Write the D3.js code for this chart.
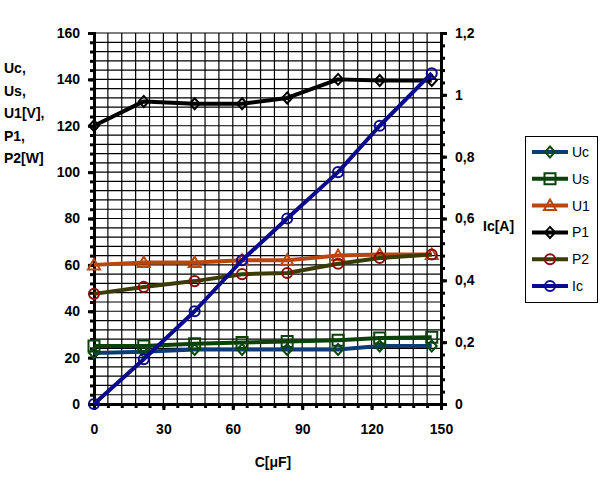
<!DOCTYPE html>
<html><head><meta charset="utf-8">
<script src="https://cdn.jsdelivr.net/npm/d3@7"></script>
<style>body{margin:0;background:#fff}svg{display:block}text{font-family:"Liberation Sans",Arial,sans-serif}</style>
</head><body><div id="c"></div>
<script>
const capacitance = [0, 21.5, 43.5, 64, 83.5, 105.5, 123.5, 146];
const Uc = [22, 22.5, 23.5, 23.5, 23.5, 23.5, 25, 25];
const Us = [25, 25, 26, 26.5, 27, 27.5, 28.5, 28.8];
const U1 = [60, 61, 61, 62, 62, 64, 64.5, 64.5];
const P1 = [120, 130.5, 129.5, 129.5, 132, 140, 139.5, 139.5];
const P2 = [47.5, 50.5, 53, 56, 56.5, 60.5, 63, 64.5];
const Ic = [0, 0.145, 0.30, 0.465, 0.60, 0.75, 0.90, 1.07];
const xTicks = [0, 30, 60, 90, 120, 150];
const yLeftTicks = [0, 20, 40, 60, 80, 100, 120, 140, 160];
const yRightTicks = [0, 0.2, 0.4, 0.6, 0.8, 1, 1.2];
const leftTitle = ["Uc,", "Us,", "U1[V],", "P1,", "P2[W]"];

const series = [
  {name:"Uc", values:Uc, axis:"L", line:"#0B3D74", marker:"diamond", mcol:"#0A4A0A"},
  {name:"Us", values:Us, axis:"L", line:"#0A420A", marker:"square", mcol:"#0A420A"},
  {name:"U1", values:U1, axis:"L", line:"#B8460E", marker:"triangle", mcol:"#B8460E"},
  {name:"P1", values:P1, axis:"L", line:"#000000", marker:"diamond", mcol:"#000000"},
  {name:"P2", values:P2, axis:"L", line:"#3B3B06", marker:"circle", mcol:"#8B0A0A"},
  {name:"Ic", values:Ic, axis:"R", line:"#0A0A8C", marker:"circle", mcol:"#0A0A8C"}
];

const W=610,H=495;
const svg=d3.select("#c").append("svg").attr("width",W).attr("height",H);
const x=d3.scaleLinear().domain([0,150]).range([94,441]);
const yL=d3.scaleLinear().domain([0,160]).range([404,33]);
const yR=d3.scaleLinear().domain([0,1.2]).range([404,33]);

// grid
const g=svg.append("g");
g.selectAll("line.v").data(d3.range(6,150,6)).join("line")
  .attr("x1",d=>x(d)).attr("x2",d=>x(d)).attr("y1",yL(0)).attr("y2",yL(160))
  .attr("stroke","#000").attr("stroke-width",1.2);
g.selectAll("line.h").data(d3.range(4,161,4)).join("line")
  .attr("y1",d=>yL(d)).attr("y2",d=>yL(d)).attr("x1",x(0)).attr("x2",x(150))
  .attr("stroke","#000").attr("stroke-width",1.2);

// axes
const axL=d3.axisLeft(yL).tickValues(yLeftTicks).tickSize(6).tickPadding(8).tickFormat(d3.format("d"));
const axLm=d3.axisLeft(yL).tickValues(d3.range(0,161,4)).tickSize(4).tickFormat("");
const axB=d3.axisBottom(x).tickValues(xTicks).tickSize(6).tickPadding(14);
const axBm=d3.axisBottom(x).tickValues(d3.range(0,151,6)).tickSize(4).tickFormat("");
const axR=d3.axisRight(yR).tickValues(yRightTicks).tickSize(6).tickPadding(8).tickFormat(d=>String(d).replace(".",","));
const axRm=d3.axisRight(yR).tickValues(d3.range(0,49,1.6).map(v=>v/40)).tickSize(4).tickFormat("");

function style(sel){
  sel.select(".domain").attr("stroke","#000").attr("stroke-width",3);
  sel.selectAll(".tick line").attr("stroke","#000").attr("stroke-width",3);
  sel.selectAll("text").attr("font-size",14).attr("font-weight","bold").attr("fill","#000");
}
svg.append("g").attr("transform",`translate(${x(0)},0)`).call(axLm).call(style);
svg.append("g").attr("transform",`translate(${x(0)},0)`).call(axL).call(style);
svg.append("g").attr("transform",`translate(0,${yL(0)})`).call(axBm).call(style);
svg.append("g").attr("transform",`translate(0,${yL(0)})`).call(axB).call(style);
svg.append("g").attr("transform",`translate(${x(150)},0)`).call(axRm).call(style);
svg.append("g").attr("transform",`translate(${x(150)},0)`).call(axR).call(style);
svg.selectAll(".domain").attr("d",function(){return d3.select(this).attr("d").replace(/M[^VH]*[VH][^VH]*V/, m=>m)});

// titles
svg.append("text").attr("x",4).attr("y",0).attr("font-size",14).attr("font-weight","bold")
  .selectAll("tspan").data(leftTitle).join("tspan").attr("x",4).attr("y",(d,i)=>73+i*22.5).text(d=>d);
svg.append("text").attr("x",483).attr("y",231).attr("font-size",14).attr("font-weight","bold").text("Ic[A]");
svg.append("text").attr("x",273).attr("y",467).attr("text-anchor","middle").attr("font-size",14).attr("font-weight","bold").text("C[μF]");

// markers
function markerPath(type){
  if(type==="diamond") return "M0,-5.5L5,0L0,5.5L-5,0Z";
  if(type==="square") return "M-5.5,-5.5H5.5V5.5H-5.5Z";
  if(type==="triangle") return "M0,-6L6,4.5H-6Z";
  return d3.symbol(d3.symbolCircle,80)();
}

const plot=svg.append("g");
series.forEach(s=>{
  const ys=s.axis==="L"?yL:yR;
  const pts=capacitance.map((c,i)=>[x(c),ys(s.values[i])]);
  plot.append("path").attr("d",d3.line()(pts)).attr("fill","none").attr("stroke",s.line).attr("stroke-width",4).attr("stroke-linejoin","round");
  plot.append("g").selectAll("path").data(pts).join("path")
    .attr("transform",d=>`translate(${d[0]},${d[1]})`).attr("d",markerPath(s.marker))
    .attr("fill","none").attr("stroke",s.mcol).attr("stroke-width",2);
});

// legend
const lg=svg.append("g");
lg.append("rect").attr("x",525.5).attr("y",136.5).attr("width",72).attr("height",166).attr("fill","#fff").attr("stroke","#000").attr("stroke-width",1);
series.forEach((s,i)=>{
  const yy=152+i*26.8;
  lg.append("line").attr("x1",532).attr("x2",568).attr("y1",yy).attr("y2",yy).attr("stroke",s.line).attr("stroke-width",4);
  lg.append("path").attr("transform",`translate(550,${yy})`).attr("d",markerPath(s.marker)).attr("fill","none").attr("stroke",s.mcol).attr("stroke-width",2);
  lg.append("text").attr("x",572).attr("y",yy+5).attr("font-size",14).text(s.name);
});
</script></body></html>
